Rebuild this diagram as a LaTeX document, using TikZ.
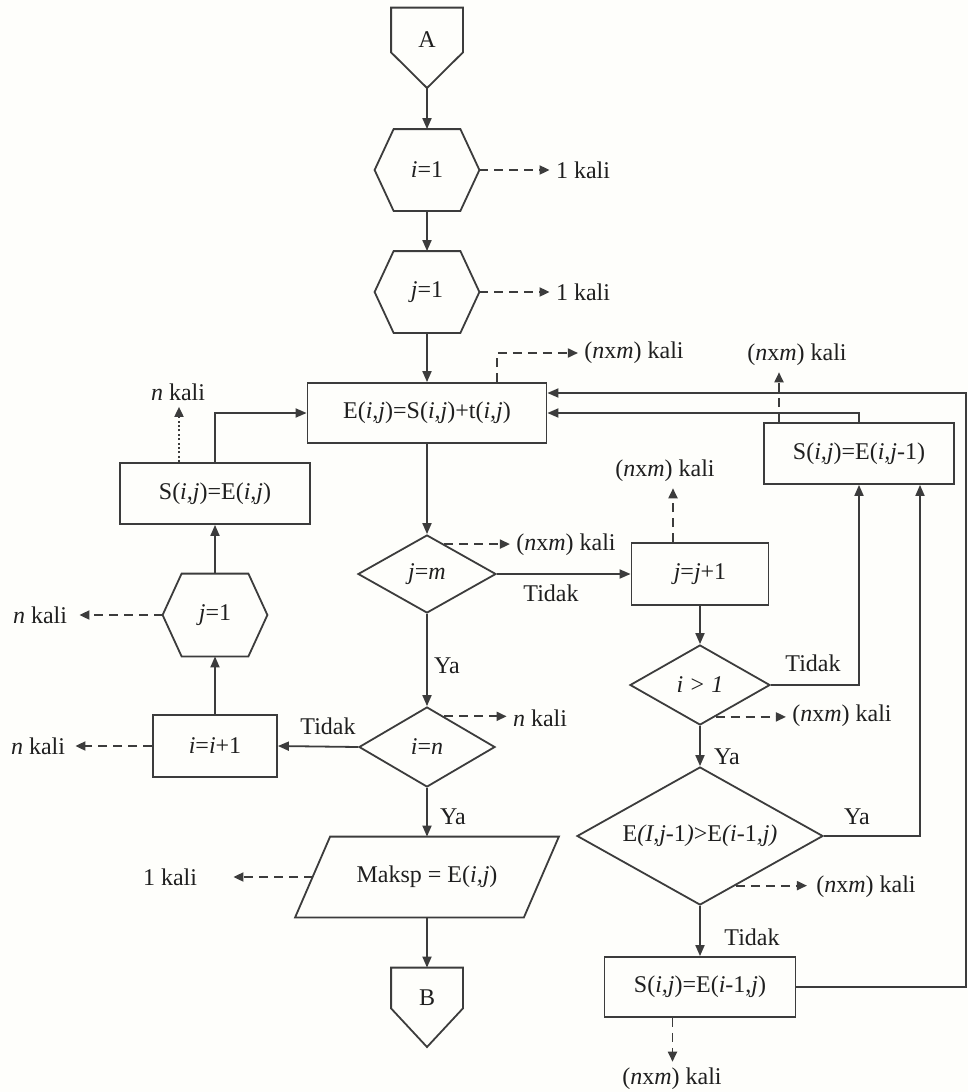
\documentclass[tikz,border=0pt]{standalone}
\usepackage{fontspec}
\setmainfont{Liberation Serif}
\usetikzlibrary{arrows.meta,shapes.geometric,calc}
\definecolor{ink}{HTML}{3C3C3C}
\definecolor{paper}{HTML}{FEFEFB}
% hexagon outline drawn round an invisible rectangular node
\newcommand\hexline[1]{\draw[shapeline] (#1.west) -- ([xshift=9.5pt]#1.north west) -- ([xshift=-9.5pt]#1.north east) -- (#1.east) -- ([xshift=-9.5pt]#1.south east) -- ([xshift=9.5pt]#1.south west) -- cycle;}
% off-page connector: box with a pointed bottom
\newcommand\pentline[2]{\draw[shapeline] (#1.north west) -- (#1.north east) -- ([yshift=10pt]#1.south east) -- (#2) -- ([yshift=10pt]#1.south west) -- cycle;}
% parallelogram (input/output)
\newcommand\paraline[1]{\draw[shapeline] ([xshift=8.75pt]#1.north west) -- ([xshift=8.75pt]#1.north east) -- ([xshift=-8.75pt]#1.south east) -- ([xshift=-8.75pt]#1.south west) -- cycle;}

\begin{document}
\begin{tikzpicture}[x=0.5pt,y=-0.5pt,
  every node/.style={font=\fontsize{12pt}{14pt}\selectfont, text=black!88},
  shapeline/.style={draw=ink, line width=0.9pt, line join=miter},
  box/.style={rectangle, draw=ink, line width=0.9pt, inner sep=2pt},
  ghost/.style={rectangle, inner sep=0pt},
  cond/.style={diamond, draw=ink, line width=0.9pt, inner sep=0pt, shape aspect=1.75},
  flow/.style={draw=ink, line width=0.9pt, -{Triangle[length=5.5pt,width=4.5pt]}},
  tally/.style={draw=ink, line width=0.9pt, dash pattern=on 4.5pt off 3pt, -{Triangle[length=5pt,width=4.5pt]}},
  dotty/.style={draw=ink, line width=0.9pt, dash pattern=on 1pt off 1.2pt, -{Triangle[length=5pt,width=4.5pt]}},
  note/.style={inner sep=3pt},
]
\fill[paper] (0,0) rectangle (968,1092);
\useasboundingbox (0,0) rectangle (968,1092);

% ---- main column ----
\node[ghost, minimum width=35.5pt, minimum height=32pt] (A) at (427,40) {A};
\coordinate (Atip) at (427,88);
\pentline{A}{Atip}
\node[ghost, minimum width=52pt, minimum height=40.5pt] (i1) at (427,170) {\textit{i}=1};
\hexline{i1}
\node[ghost, minimum width=52pt, minimum height=40.5pt] (j1) at (427,292) {\textit{j}=1};
\hexline{j1}
\node[box, minimum width=119.5pt, minimum height=30pt] (E) at (427,413) {E(\textit{i,j})=S(\textit{i,j})+t(\textit{i,j})};
\node[cond, minimum width=69pt, minimum height=39pt] (jm) at (427,574) {\textit{j}=\textit{m}};
\node[cond, minimum width=68pt, minimum height=40pt] (jn) at (427,747) {\textit{i}=\textit{n}};
\node[ghost, minimum width=114pt, minimum height=40pt] (mx) at (427,877) {Maksp = E(\textit{i,j})};
\paraline{mx}
\node[ghost, minimum width=35.5pt, minimum height=30pt] (B) at (427,998) {B};
\coordinate (Btip) at (427,1047);
\pentline{B}{Btip}

% ---- right column ----
\node[box, minimum width=68.5pt, minimum height=31pt] (jj) at (700,574) {\textit{j}=\textit{j}+1};
\node[cond, minimum width=70pt, minimum height=40pt] (ig) at (700,685) {\textit{i > 1}};
\node[cond, minimum width=123pt, minimum height=69pt] (ed) at (700,836) {E\textit{(I,j}-1\textit{)}>E\textit{(i}-1\textit{,j)}};
\node[box, minimum width=95.5pt, minimum height=30pt] (S2) at (700,987) {S(\textit{i,j})=E(\textit{i}-1,\textit{j})};
\node[box, minimum width=95pt, minimum height=30.5pt] (S1) at (859,453.5) {S(\textit{i,j})=E(\textit{i,j}-1)};
\coordinate (rail) at (966,0);

% ---- left column ----
\node[box, minimum width=95pt, minimum height=30.5pt] (S0) at (215,493.5) {S(\textit{i,j})=E(\textit{i,j})};
\node[ghost, minimum width=52pt, minimum height=41pt] (h3) at (215,615) {\textit{j}=1};
\hexline{h3}
\node[box, minimum width=62pt, minimum height=31pt] (ii) at (215,746) {\textit{i}=\textit{i}+1};

% ---- counts ----
\node[note] (k1) at (583,170) {1 kali};
\node[note] (k2) at (583,292) {1 kali};
\node[note] (kE) at (634,353) {(\textit{n}x\textit{m}) kali};
\node[note] (kS1) at (797,355) {(\textit{n}x\textit{m}) kali};
\node[note] (kjm) at (566,545) {(\textit{n}x\textit{m}) kali};
\node[note] (kjj) at (665,471) {(\textit{n}x\textit{m}) kali};
\node[note] (kig) at (842,716) {(\textit{n}x\textit{m}) kali};
\node[note] (ked) at (866,887) {(\textit{n}x\textit{m}) kali};
\node[note] (kS2) at (672,1079) {(\textit{n}x\textit{m}) kali};
\node[note] (kS0) at (178,392) {\textit{n} kali};
\node[note] (kh) at (40,615) {\textit{n} kali};
\node[note] (ki) at (38,746) {\textit{n} kali};
\node[note] (kjn) at (540,718) {\textit{n} kali};
\node[note] (kmx) at (170,877) {1 kali};

% ---- branch labels ----
\node (t1) at (551,593) {Tidak};
\node (t2) at (328,726) {Tidak};
\node (t3) at (813,663) {Tidak};
\node (t4) at (752,937) {Tidak};
\node (y1) at (447,666) {Ya};
\node (y2) at (453,817) {Ya};
\node (y3) at (727,757) {Ya};
\node (y4) at (857,817) {Ya};

% ---- flow ----
\draw[flow] (Atip) -- (i1.north);
\draw[flow] (i1.south) -- (j1.north);
\draw[flow] (j1.south) -- (E.north);
\draw[flow] (E.south) -- (jm.north);
\draw[flow] (jm.east) -- (jj.west);
\draw[flow] (jj.south) -- (ig.north);
\draw[flow] (ig.south) -- (ed.north);
\draw[flow] (ed.south) -- (S2.north);
\draw[flow] (ig.east) -| (S1.south);
\draw[flow] (ed.east) -| ([xshift=30.5pt]S1.south);
\draw[flow] (S1.north) |- (E.east);
\draw[flow] (S2.east) -- (S2.east -| rail) |- ([yshift=10pt]E.east);
\draw[flow] (jm.south) -- (jn.north);
\draw[flow] (jn.west) -- (ii.east);
\draw[flow] (jn.south) -- (mx.north);
\draw[flow] (mx.south) -- (B.north);
\draw[flow] (ii.north) -- (h3.south);
\draw[flow] (h3.north) -- (S0.south);
\draw[flow] (S0.north) |- (E.west);

% ---- count arrows ----
\coordinate (s1t) at ([xshift=-40pt]S1.north);
\coordinate (jjt) at ([xshift=-13.5pt]jj.north);
\coordinate (s2b) at ([xshift=-13.75pt]S2.south);
\coordinate (s0t) at ([xshift=-18pt]S0.north);
\coordinate (jmd) at ($(jm.north)!0.25!(jm.east)$);
\coordinate (jnd) at ($(jn.north)!0.25!(jn.east)$);
\coordinate (igd) at ($(ig.south)!0.22!(ig.east)$);
\coordinate (edd) at ($(ed.south)!0.29!(ed.east)$);
\draw[tally] (i1.east) -- (k1.west);
\draw[tally] (j1.east) -- (k2.west);
\draw[tally] ([xshift=35pt]E.north) |- (kE.west);
\draw[tally] (s1t) -- (s1t |- kS1.south);
\draw[tally] (jjt) -- (jjt |- kjj.south);
\draw[tally] (s2b) -- (s2b |- kS2.north);
\draw[dotty] (s0t) -- (s0t |- kS0.south);
\draw[tally] (jmd) -- (jmd -| kjm.west);
\draw[tally] (jnd) -- (jnd -| kjn.west);
\draw[tally] (igd) -- (igd -| kig.west);
\draw[tally, shorten >=1.5pt] (edd) -- (edd -| ked.west);
\draw[tally, shorten >=3pt] (h3.west) -- (kh.east);
\draw[tally, shorten >=2pt] (ii.west) -- (ki.east);
\draw[tally, shorten >=15pt] (mx.west) -- (kmx.east);
\end{tikzpicture}
\end{document}
